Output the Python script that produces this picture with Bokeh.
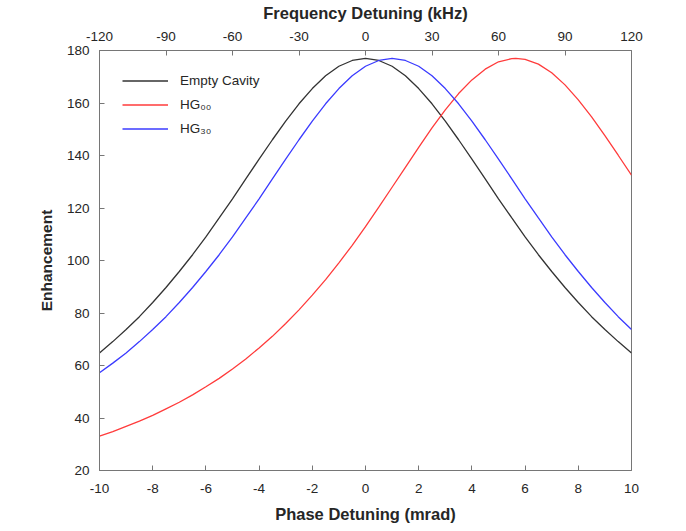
from bokeh.plotting import figure
from bokeh.models import Range1d, LinearAxis, FixedTicker, Legend, LegendItem, PrintfTickFormatter
from bokeh.embed import file_html
from bokeh.resources import INLINE

# ---- data ----
phase = [-10.0, -9.5, -9.0, -8.5, -8.0, -7.5, -7.0, -6.5, -6.0, -5.5, -5.0,
         -4.5, -4.0, -3.5, -3.0, -2.5, -2.0, -1.5, -1.0, -0.5, 0.0,
         0.5, 1.0, 1.5, 2.0, 2.5, 3.0, 3.5, 4.0, 4.5, 5.0,
         5.5, 6.0, 6.5, 7.0, 7.5, 8.0, 8.5, 9.0, 9.5, 10.0]

empty_cavity = [64.8, 69.1, 73.7, 78.6, 84.0, 89.7, 95.8, 102.2, 109.0, 116.2, 123.5,
                131.1, 138.6, 146.0, 153.1, 159.7, 165.5, 170.4, 174.0, 176.2, 177.0,
                176.2, 174.0, 170.4, 165.5, 159.7, 153.1, 146.0, 138.6, 131.1, 123.5,
                116.2, 109.0, 102.2, 95.8, 89.7, 84.0, 78.6, 73.7, 69.1, 64.8]

hg30 = [57.2, 60.9, 64.8, 69.1, 73.7, 78.6, 84.0, 89.7, 95.8, 102.2, 109.0,
        116.2, 123.5, 131.1, 138.6, 146.0, 153.1, 159.7, 165.5, 170.4, 174.0,
        176.2, 177.0, 176.2, 174.0, 170.4, 165.5, 159.7, 153.1, 146.0, 138.6,
        131.1, 123.5, 116.2, 109.0, 102.2, 95.8, 89.7, 84.0, 78.6, 73.7]

phase_hg00 = [-10.0, -9.5, -9.0, -8.5, -8.0, -7.5, -7.0, -6.5, -6.0, -5.5, -5.0,
              -4.5, -4.0, -3.5, -3.0, -2.5, -2.0, -1.5, -1.0, -0.5, 0.0,
              0.5, 1.0, 1.5, 2.0, 2.5, 3.0, 3.5, 4.0, 4.5, 5.0,
              5.5, 5.65, 6.0, 6.5, 7.0, 7.5, 8.0, 8.5, 9.0, 9.5, 10.0]

hg00 = [33.1, 34.8, 36.8, 38.8, 41.0, 43.5, 46.0, 48.8, 51.9, 55.1, 58.7,
        62.5, 66.7, 71.1, 76.0, 81.2, 86.8, 92.7, 99.1, 105.8, 112.9,
        120.3, 127.9, 135.5, 143.1, 150.5, 157.4, 163.6, 168.8, 172.9, 175.7,
        176.9, 177.0, 176.6, 174.8, 171.5, 166.9, 161.2, 154.7, 147.6, 140.1, 132.5]

phase_ticks = [-10, -8, -6, -4, -2, 0, 2, 4, 6, 8, 10]
khz_ticks = [-120, -90, -60, -30, 0, 30, 60, 90, 120]
enh_ticks = [20, 40, 60, 80, 100, 120, 140, 160, 180]

labels = ["Empty Cavity", "HG\u2080\u2080", "HG\u2083\u2080"]
colors = ["#333333", "#ff3b3b", "#3b3bff"]

# ---- figure ----
FONT = "Liberation Sans"
TXT = "#262626"
AX = "#767676"

p = figure(width=686, height=531,
           x_range=Range1d(-10, 10), y_range=Range1d(20, 180),
           output_backend="svg", toolbar_location=None,
           min_border_left=99, min_border_right=55,
           min_border_top=50, min_border_bottom=61,
           x_axis_label="Phase Detuning (mrad)", y_axis_label="Enhancement")
p.grid.visible = False
p.outline_line_color = AX
p.outline_line_width = 1
p.background_fill_color = "white"
p.border_fill_color = "white"

p.extra_x_ranges = {"khz": Range1d(-120, 120)}
top_axis = LinearAxis(x_range_name="khz", axis_label="Frequency Detuning (kHz)")
p.add_layout(top_axis, "above")

bottom_axis = p.below[0]
left_axis = p.left[0]

bottom_axis.ticker = FixedTicker(ticks=phase_ticks)
top_axis.ticker = FixedTicker(ticks=khz_ticks)
left_axis.ticker = FixedTicker(ticks=enh_ticks)

for ax in (bottom_axis, top_axis, left_axis):
    ax.formatter = PrintfTickFormatter(format="%d")
    ax.major_tick_in = 5
    ax.major_tick_out = 0
    ax.minor_tick_line_color = None
    ax.axis_line_color = AX
    ax.major_tick_line_color = AX
    ax.major_label_text_font = FONT
    ax.major_label_text_font_size = "13.5px"
    ax.major_label_text_color = TXT
    ax.axis_label_text_font = FONT
    ax.axis_label_text_font_size = "16.5px"
    ax.axis_label_text_font_style = "bold"
    ax.axis_label_text_color = TXT
left_axis.axis_label_text_font_size = "15.5px"

bottom_axis.major_label_standoff = 13
bottom_axis.axis_label_standoff = 9
top_axis.major_label_standoff = 10
top_axis.axis_label_standoff = 7
left_axis.major_label_standoff = 10
left_axis.axis_label_standoff = 9

r0 = p.line(phase, empty_cavity, line_color=colors[0], line_width=1.3)
r1 = p.line(phase_hg00, hg00, line_color=colors[1], line_width=1.3)
r2 = p.line(phase, hg30, line_color=colors[2], line_width=1.3)

legend = Legend(items=[LegendItem(label=labels[0], renderers=[r0]),
                       LegendItem(label=labels[1], renderers=[r1]),
                       LegendItem(label=labels[2], renderers=[r2])],
                location="top_left")
legend.border_line_color = None
legend.background_fill_alpha = 0
legend.margin = 23
legend.padding = 10
legend.spacing = 9
legend.glyph_width = 46
legend.glyph_height = 15
legend.label_height = 15
legend.label_standoff = 12
legend.label_text_font = FONT
legend.label_text_font_size = "13.5px"
legend.label_text_color = TXT
p.add_layout(legend)

open("out.html", "w").write(file_html(p, INLINE))
